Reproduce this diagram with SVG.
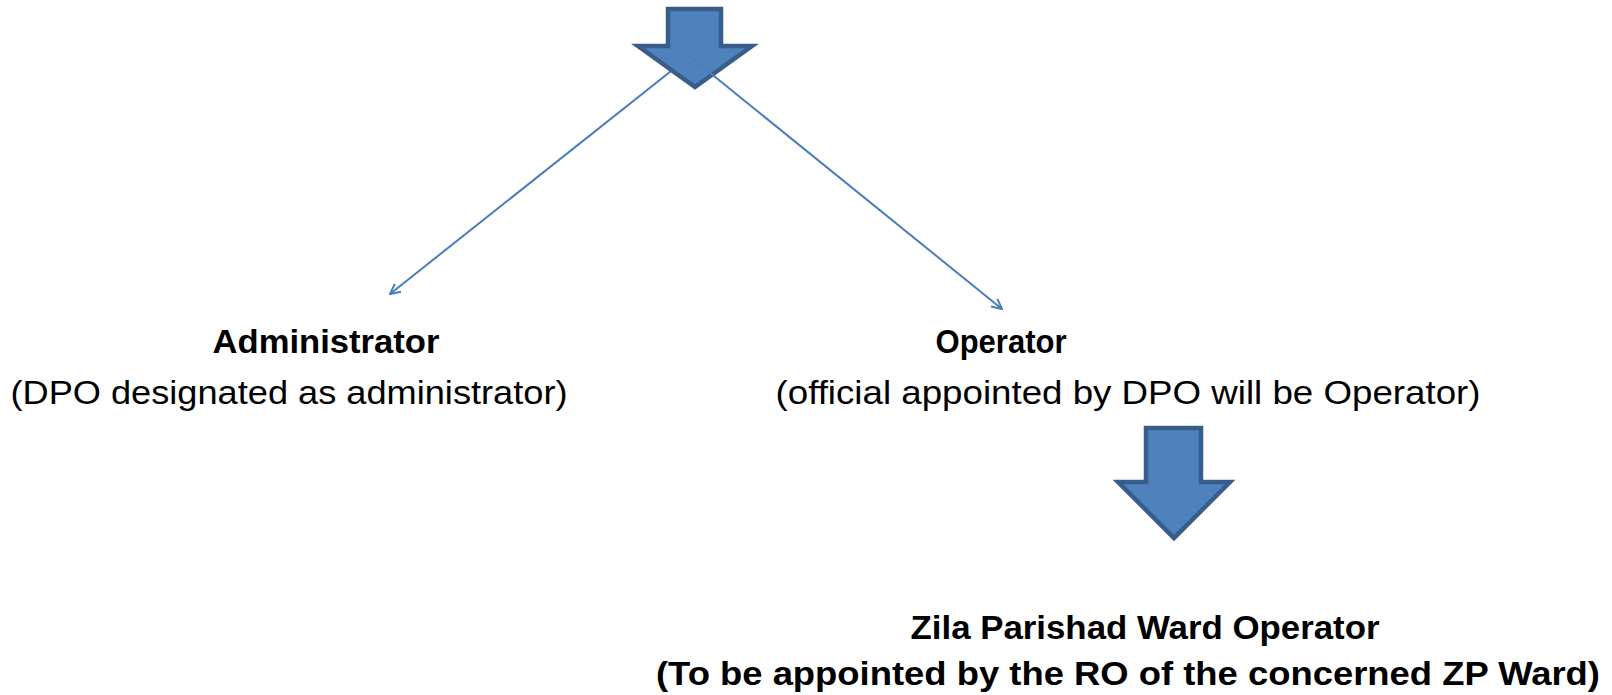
<svg xmlns="http://www.w3.org/2000/svg" width="1612" height="695" viewBox="0 0 1612 695">
<defs>
<style>
.blk{fill:#4F81BD;stroke:#385D8A;stroke-width:4.5;stroke-linejoin:miter}
.con{stroke:#4A7EBB;stroke-width:2;fill:none}
.t{font-family:"Liberation Sans",Arial,sans-serif;font-size:33px;fill:#000;text-anchor:middle}
.b{font-weight:bold}
</style>
<marker id="open" viewBox="0 0 12 12" refX="11" refY="6" markerWidth="12" markerHeight="12" markerUnits="userSpaceOnUse" orient="auto">
<path d="M1,1 L11,6 L1,11" fill="none" stroke="#4A7EBB" stroke-width="2"/>
</marker>
</defs>
<g id="connectors">
<line id="c-left" class="con" x1="690" y1="56" x2="390" y2="294" marker-end="url(#open)"/>
</g>
<g id="top-arrow">
<path class="blk" d="M668,9 L721,9 L721,46 L752,46 L695,87 L638,46 L668,46 Z"/>
</g>
<g id="connectors2">
<line id="c-right" class="con" x1="688" y1="55" x2="1002" y2="309" marker-end="url(#open)"/>
</g>
<g id="admin">
<text class="t b" x="326" y="353" textLength="227" lengthAdjust="spacingAndGlyphs">Administrator</text>
<text class="t" x="289" y="404" textLength="557" lengthAdjust="spacingAndGlyphs">(DPO designated as administrator)</text>
</g>
<g id="operator">
<text class="t b" x="1001" y="353" textLength="131" lengthAdjust="spacingAndGlyphs">Operator</text>
<text class="t" x="1128" y="404" textLength="705" lengthAdjust="spacingAndGlyphs">(official appointed by DPO will be Operator)</text>
</g>
<g id="down-arrow">
<path class="blk" d="M1146,428 L1201,428 L1201,482 L1230,482 L1174,538 L1118,482 L1146,482 Z"/>
</g>
<g id="zp">
<text class="t b" x="1145" y="639" textLength="469" lengthAdjust="spacingAndGlyphs">Zila Parishad Ward Operator</text>
<text class="t b" x="1128" y="685" textLength="944" lengthAdjust="spacingAndGlyphs">(To be appointed by the RO of the concerned ZP Ward)</text>
</g>
</svg>
